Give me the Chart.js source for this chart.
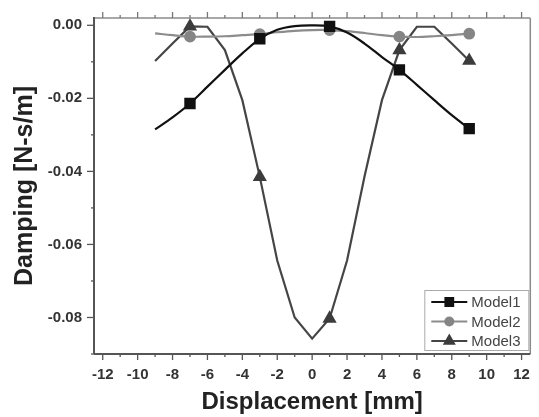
<!DOCTYPE html>
<html>
<head>
<meta charset="utf-8">
<script src="https://cdn.jsdelivr.net/npm/chart.js@4/dist/chart.umd.min.js"></script>
<style>
  html, body { margin: 0; padding: 0; background: #fff; }
  #wrap { width: 539px; height: 417px; }
</style>
</head>
<body>
<div id="wrap"><canvas id="c"></canvas></div>
<script>
// displacement [mm] and damping [N-s/m]
var displacement = [-9, -8, -7, -6, -5, -4, -3, -2, -1, 0, 1, 2, 3, 4, 5, 6, 7, 8, 9];
var model1 = [-0.0285, -0.0252, -0.0214, -0.0168, -0.0122, -0.0077, -0.0037, -0.0012, -0.0002, 0.0, -0.0003, -0.0020, -0.0050, -0.0087, -0.0122, -0.0163, -0.0205, -0.0246, -0.0283];
var model2 = [-0.0022, -0.0027, -0.0031, -0.0031, -0.0030, -0.0027, -0.0024, -0.0019, -0.0015, -0.0013, -0.0013, -0.0016, -0.0021, -0.0027, -0.0031, -0.0032, -0.0030, -0.0027, -0.0023];
var model3 = [-0.0098, -0.0050, -0.0003, -0.0004, -0.0068, -0.0205, -0.0415, -0.0644, -0.0800, -0.0858, -0.0803, -0.0644, -0.0414, -0.0205, -0.0068, -0.0004, -0.0004, -0.0050, -0.0097];
var markerAt = [-7, -3, 1, 5, 9];
var labels = ['Model1', 'Model2', 'Model3'];
// x ticks every 1 mm, labelled every 2
var xTicks = [-12, -11, -10, -9, -8, -7, -6, -5, -4, -3, -2, -1, 0, 1, 2, 3, 4, 5, 6, 7, 8, 9, 10, 11, 12];

function pts(arr) {
    return displacement.map(function (x, i) { return {x: x, y: arr[i]}; });
}

function markR(r) {
    return function (ctx) {
        return (ctx.raw && markerAt.indexOf(ctx.raw.x) >= 0) ? r : 0;
    };
}

var frame = {
    id: 'frame',
    beforeDatasetsDraw: function (chart) {
        var ctx = chart.ctx, a = chart.chartArea;
        var xs = chart.scales.x, ys = chart.scales.y;
        ctx.save();
        function ln(x1, y1, x2, y2) {
            ctx.beginPath(); ctx.moveTo(x1, y1); ctx.lineTo(x2, y2); ctx.stroke();
        }
        ctx.strokeStyle = '#8a8a8a';
        ctx.lineWidth = 1.5;
        ln(a.left, a.top, a.right, a.top);
        ln(a.right, a.top, a.right, a.bottom);
        ctx.strokeStyle = '#555';
        ctx.lineWidth = 2;
        ln(a.left, a.top - 1, a.left, a.bottom);
        ln(a.left, a.bottom, a.right, a.bottom);
        ctx.lineWidth = 1.3;
        xs.ticks.forEach(function (t) {
            var px = xs.getPixelForValue(t.value);
            var len = (t.value % 2 === 0) ? 6 : 3;
            ctx.strokeStyle = '#555';
            ln(px, a.bottom, px, a.bottom + len);
            ctx.strokeStyle = '#777';
            ln(px, a.top, px, a.top - len);
        });
        ctx.strokeStyle = '#555';
        ys.ticks.forEach(function (t) {
            var py = ys.getPixelForValue(t.value);
            var len = (Math.round(t.value * 100) % 2 === 0) ? 7 : 3;
            ln(a.left, py, a.left - len, py);
        });
        ctx.restore();
    },
    afterDraw: function (chart) {
        var ctx = chart.ctx, a = chart.chartArea;
        var w = 104, h = 60;
        var bx = a.right - w - 2, by = a.bottom - h - 4;
        ctx.save();
        ctx.fillStyle = '#fff';
        ctx.fillRect(bx, by, w, h);
        ctx.strokeStyle = '#aaa';
        ctx.lineWidth = 1;
        ctx.strokeRect(bx + 0.5, by + 0.5, w, h);
        ctx.font = '15px "Liberation Sans", Arial, sans-serif';
        ctx.textBaseline = 'middle';
        chart.data.datasets.forEach(function (ds, i) {
            var y = by + 12 + i * 19.5;
            ctx.strokeStyle = ds.borderColor;
            ctx.lineWidth = 2;
            ctx.beginPath(); ctx.moveTo(bx + 7, y); ctx.lineTo(bx + 43, y); ctx.stroke();
            ctx.fillStyle = ds.pointBackgroundColor;
            ctx.strokeStyle = ds.pointBackgroundColor;
            Chart.helpers.drawPoint(ctx, {pointStyle: ds.pointStyle, radius: ds.legendR, rotation: 0, borderWidth: 1}, bx + 25, y);
            ctx.fillStyle = '#444';
            ctx.fillText(ds.label, bx + 47, y + 1);
        });
        ctx.restore();
    }
};

new Chart(document.getElementById('c'), {
    type: 'line',
    data: {
        datasets: [
            {
                label: labels[0], data: pts(model1),
                borderColor: '#111', borderWidth: 2.2, tension: 0.35,
                pointStyle: 'rect', pointRadius: markR(6.5), legendR: 5.5,
                pointBackgroundColor: '#111', pointBorderColor: '#111'
            },
            {
                label: labels[1], data: pts(model2),
                borderColor: '#8c8c8c', borderWidth: 2.2, tension: 0.35,
                pointStyle: 'circle', pointRadius: markR(4.8), legendR: 4,
                pointBackgroundColor: '#858585', pointBorderColor: '#858585'
            },
            {
                label: labels[2], data: pts(model3),
                borderColor: '#454545', borderWidth: 2.2, tension: 0,
                pointStyle: 'triangle', pointRadius: markR(6), legendR: 5.5,
                pointBackgroundColor: '#3c3c3c', pointBorderColor: '#3c3c3c'
            }
        ]
    },
    options: {
        responsive: true,
        maintainAspectRatio: false,
        animation: false,
        clip: false,
        layout: { padding: { top: 18, right: 3, bottom: 0, left: 4 } },
        plugins: { legend: { display: false }, tooltip: { enabled: false } },
        scales: {
            x: {
                type: 'linear', min: -12.5, max: 12.5,
                grid: { display: false },
                border: { display: false },
                afterBuildTicks: function (s) {
                    s.ticks = xTicks.map(function (v) { return {value: v}; });
                },
                afterFit: function (s) { s.height = 63; },
                ticks: {
                    autoSkip: false, maxRotation: 0,
                    padding: 4, color: '#333',
                    font: { family: '"Liberation Sans", Arial, sans-serif', size: 15, weight: 'bold' },
                    callback: function (v) { return v % 2 === 0 ? String(v) : ''; }
                },
                title: {
                    display: true, text: 'Displacement [mm]', color: '#222',
                    padding: { top: 0, bottom: 0 },
                    font: { family: '"Liberation Sans", Arial, sans-serif', size: 24, weight: 'bold' }
                }
            },
            y: {
                type: 'linear', min: -0.09, max: 0.002,
                grid: { display: false },
                border: { display: false },
                afterFit: function (s) { s.width = 90; },
                ticks: {
                    stepSize: 0.01, includeBounds: false, padding: 4, color: '#333',
                    font: { family: '"Liberation Sans", Arial, sans-serif', size: 15, weight: 'bold' },
                    callback: function (v) {
                        var k = Math.round(v * 100);
                        return k % 2 === 0 ? (k / 100).toFixed(2) : '';
                    }
                },
                title: {
                    display: true, text: 'Damping [N-s/m]', color: '#222',
                    padding: { top: 6, bottom: 0 },
                    font: { family: '"Liberation Sans", Arial, sans-serif', size: 25, weight: 'bold' }
                }
            }
        }
    },
    plugins: [frame]
});
</script>
</body>
</html>
